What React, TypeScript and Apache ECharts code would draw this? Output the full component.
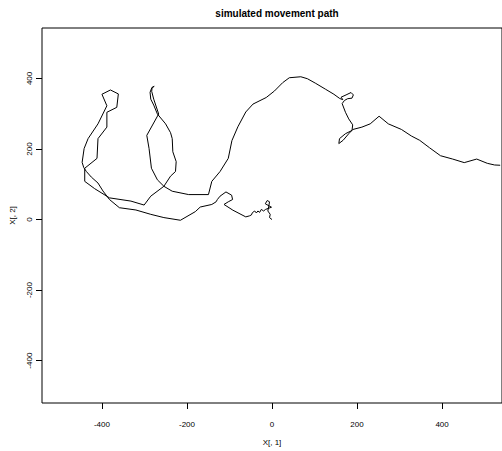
import React, { useEffect, useRef } from "react";
import * as echarts from "echarts";

const pathX: number[] = [
  0, -5.8, -4.2, -9.8, -7.5, -5.8, -11.2, -15.8, -1.2, -15.1, -19.8, -25.1, -29.1, -33.1, -36.8, -40.7, -46.1, -48.4, -53.4, -61.7,
  -92.0, -112.9, -102.9, -92.7, -95.0, -108.3, -122.2, -128.5, -131.5, -141.6, -168.8, -180.4, -215.4, -254.3, -285.2, -320.1,
  -359.0, -382.3, -397.7, -409.3, -424.9, -436.6, -442.8, -446.6, -441.9, -432.6, -409.3, -388.4, -400.0, -380.0, -361.4, -365.1,
  -388.4, -388.4, -409.3, -411.6, -440.5, -440.5, -417.2, -382.3, -331.8, -300.8, -285.2, -254.3, -238.6, -227.0, -225.4, -233.3,
  -234.7, -238.6, -250.3, -269.6, -278.2, -285.2, -286.8, -282.8, -277.1, -281.9, -283.0, -278.2, -266.6, -294.5, -289.2, -283.6,
  -269.6, -254.3, -234.7, -196.0, -149.5, -141.6, -122.2, -102.9, -94.3, -80.3, -61.7, -44.7, -13.5, 5.8, 25.1, 40.7, 67.8, 83.3,
  102.9, 126.2, 145.6, 159.3, 166.5, 162.6, 174.2, 185.9, 191.4, 188.1, 178.1, 170.4, 165.0, 172.8, 180.5, 189.8, 188.2, 172.8,
  158.8, 157.2, 167.2, 180.5, 189.8, 211.4, 231.0, 251.9, 273.6, 304.5, 327.8, 347.4, 370.7, 396.3, 424.9, 452.2, 481.5, 506.4,
  523.4, 536.7,
];

const pathY: number[] = [
  0, 5.6, 14.8, 24.3, 38.3, 50.3, 54.0, 44.8, 35.0, 28.8, 24.3, 28.8, 20.4, 24.3, 18.7, 24.3, 19.6, 13.1, 10.3, 7.6,
  26.6, 42.8, 50.3, 56.8, 69.1, 78.3, 66.3, 56.8, 50.3, 42.8, 35.5, 22.4, -2.0, 5.6, 14.8, 27.1,
  33.6, 56.8, 81.1, 103.5, 120.3, 136.2, 147.4, 162.2, 201.4, 229.4, 271.3, 322.5, 355.2, 367.3, 356.1, 318.1,
  304.1, 262.1, 229.4, 173.4, 145.4, 108.3, 87.6, 61.5, 52.3, 41.1, 66.3, 94.3, 123.1, 136.2, 164.2, 192.2,
  229.4, 246.2, 271.3, 299.3, 324.5, 341.3, 360.8, 373.4, 377.6, 374.8, 363.6, 341.3, 299.3, 238.6, 201.4, 145.5,
  112.7, 94.3, 80.3, 70.8, 70.8, 108.3, 136.2, 173.4, 223.8, 262.9, 304.9, 327.3, 346.0, 364.5, 388.0, 402.0, 404.8, 399.2,
  386.0, 369.2, 355.2, 343.2, 339.9, 346.9, 353.3, 360.1, 353.3, 344.1, 342.7, 337.6, 328.7, 304.1, 285.3, 268.5, 252.6, 243.4,
  229.4, 215.4, 224.6, 243.4, 255.2, 262.0, 271.3, 292.9, 271.3, 255.4, 236.9, 224.6, 203.4, 181.0, 171.5, 161.4, 171.5, 159.4,
  154.7, 153.9,
];

const xTicks: number[] = [-400, -200, 0, 200, 400];
const yTicks: number[] = [-400, -200, 0, 200, 400];

const titleText = "simulated movement path";
const xName = "X[, 1]";
const yName = "X[, 2]";

export default function App() {
  const ref = useRef<HTMLDivElement>(null);
  useEffect(() => {
    if (!ref.current) return;
    const chart = echarts.init(ref.current, undefined, { renderer: "svg" });
    const font = "Liberation Sans, Arial, Helvetica, sans-serif";
    const data = pathX.map((x, i) => [x, pathY[i]]);
    chart.setOption({
      animation: false,
      backgroundColor: "#ffffff",
      textStyle: { fontFamily: font },
      title: {
        text: titleText,
        left: 272,
        textAlign: "center",
        top: 3,
        textStyle: { fontSize: 10, fontWeight: "bold", color: "#000", fontFamily: font },
      },
      grid: {
        left: 40,
        top: 28,
        bottom: 43,
        right: -3,
        show: true,
        borderColor: "#000",
        borderWidth: 1,
        backgroundColor: "transparent",
      },
      xAxis: {
        type: "value",
        min: -541,
        max: 541,
        name: xName,
        nameLocation: "middle",
        nameGap: 35,
        nameTextStyle: { fontSize: 8, color: "#000", fontFamily: font },
        axisLine: { show: false, onZero: false },
        splitLine: { show: false },
        axisTick: { show: true, customValues: xTicks, length: 6, lineStyle: { color: "#000" } },
        axisLabel: { customValues: xTicks, fontSize: 8, color: "#000", margin: 17, fontFamily: font },
      },
      yAxis: {
        type: "value",
        min: -520,
        max: 543,
        name: yName,
        nameLocation: "middle",
        nameRotate: 90,
        nameGap: 26,
        nameTextStyle: { fontSize: 8, color: "#000", fontFamily: font },
        axisLine: { show: false, onZero: false },
        splitLine: { show: false },
        axisTick: { show: true, customValues: yTicks, length: 6, lineStyle: { color: "#000" } },
        axisLabel: { customValues: yTicks, fontSize: 8, color: "#000", rotate: 90, margin: 9, fontFamily: font },
      },
      series: [
        {
          type: "line",
          data,
          showSymbol: false,
          symbol: "none",
          clip: true,
          lineStyle: { color: "#000", width: 1 },
        },
      ],
    });
    return () => chart.dispose();
  }, []);
  return (
    <div
      ref={ref}
      style={{ position: "fixed", left: 0, top: 0, width: 502, height: 451, background: "#fff" }}
    />
  );
}
